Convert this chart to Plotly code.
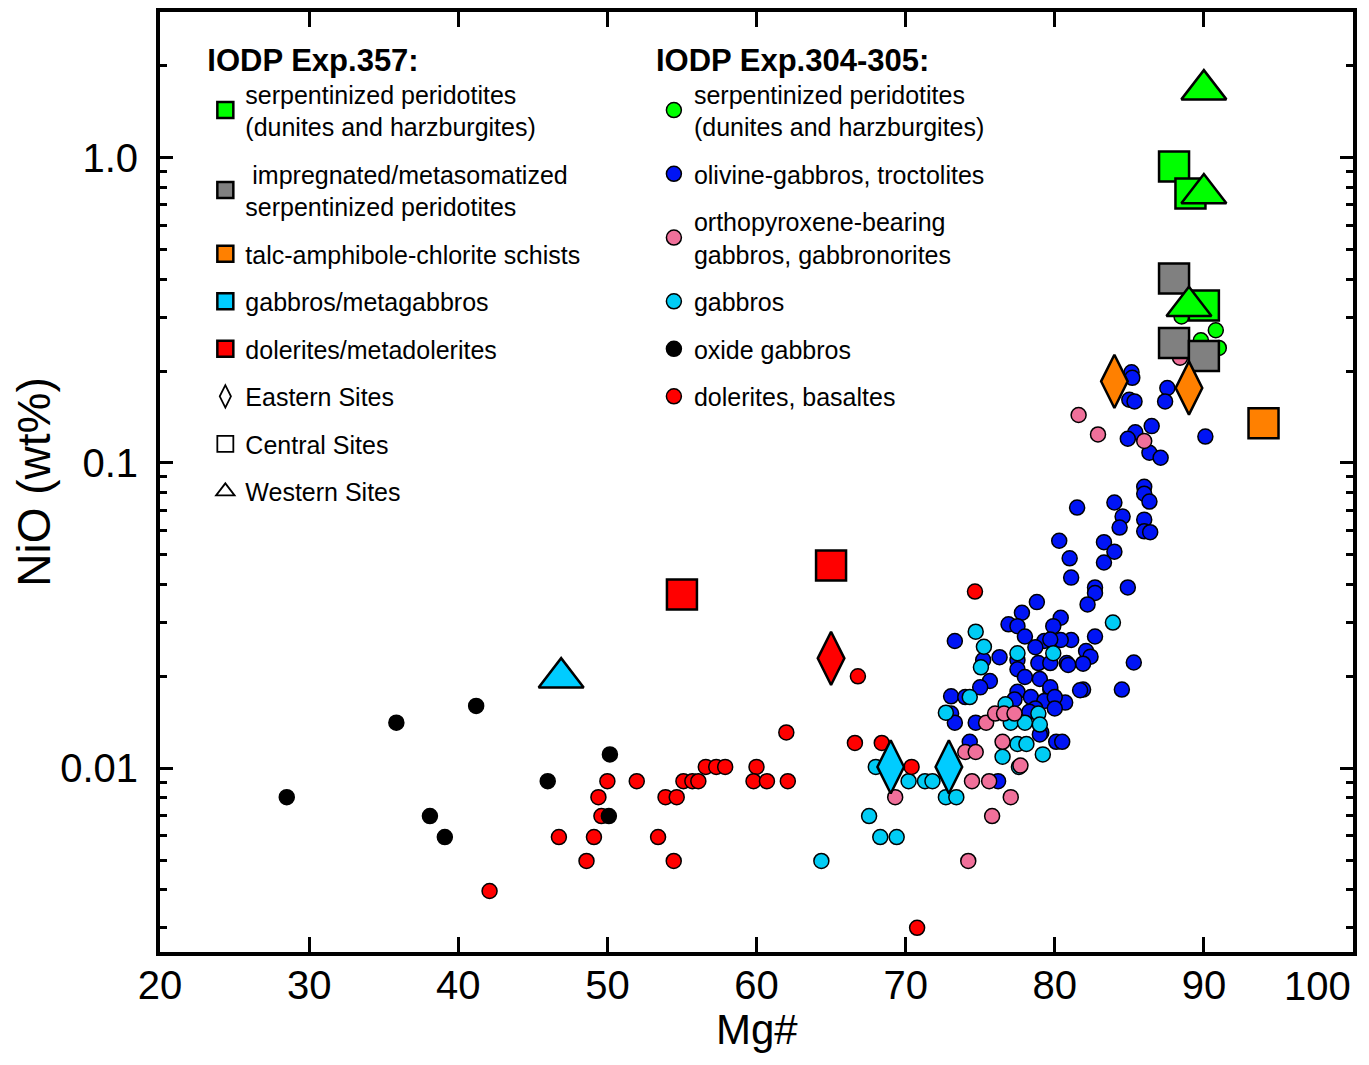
import plotly.graph_objects as go

FONT = "Liberation Sans, Arial, sans-serif"

# ---- IODP Exp.357 samples (large symbols) ----
exp357_mg = [88.0, 89.1, 90.0, 90.0, 90.0, 89.0, 88.0, 88.0, 90.0,
             84.0, 89.0, 94.0, 46.9, 69.0, 72.9, 55.0, 65.0, 65.0]
exp357_nio = [0.935, 0.763, 0.328, 1.67, 0.763, 0.326, 0.402, 0.247, 0.224,
              0.185, 0.176, 0.135, 0.0198, 0.0101, 0.0101, 0.0371, 0.0461, 0.0229]
exp357_rock = ["serp", "serp", "serp", "serp", "serp", "serp", "impreg", "impreg", "impreg",
               "talc", "talc", "talc", "gabbro", "gabbro", "gabbro", "dolerite", "dolerite", "dolerite"]
exp357_site = ["Central", "Central", "Central", "Western", "Western", "Western", "Central", "Central", "Central",
               "Eastern", "Eastern", "Central", "Western", "Eastern", "Eastern", "Central", "Central", "Eastern"]

rock_names = {
    "serp": "serpentinized peridotites<br>(dunites and harzburgites)",
    "impreg": " impregnated/metasomatized<br>serpentinized peridotites",
    "talc": "talc-amphibole-chlorite schists",
    "gabbro": "gabbros/metagabbros",
    "dolerite": "dolerites/metadolerites",
}
rock_colors = {"serp": "#00ff00", "impreg": "#808080", "talc": "#ff8000",
               "gabbro": "#00ccff", "dolerite": "#ff0000"}
site_symbols = {"Eastern": "diamond-tall", "Central": "square", "Western": "triangle-up"}
site_sizes = {"Eastern": 38, "Central": 30, "Western": 39}

# ---- IODP Exp.304-305 samples (small circles) ----
serp_mg = [90.8, 89.8, 88.5, 91.0]
serp_nio = [0.272, 0.252, 0.302, 0.238]

olgab_mg = [85.15, 85.2, 85.0, 85.35, 87.55, 87.4, 86.5, 85.4, 84.9, 86.35, 87.1, 90.1,
            86.0, 86.0, 86.35, 84.0, 81.5, 84.55, 84.35, 86.0, 86.0, 86.4, 80.3, 83.3,
            84.0, 81.0, 83.3, 81.1, 82.7, 82.7, 84.9, 82.2, 78.8, 80.4, 79.9, 82.7,
            81.1, 80.4, 79.3, 82.1, 82.4, 81.9, 80.8, 85.3, 81.9, 84.5, 79.7, 80.7,
            77.8, 76.9, 77.5, 78.0, 73.3, 79.7, 78.7, 76.3, 75.2, 77.5, 78.9, 79.7,
            80.9, 77.5, 78.0, 79.0, 79.7, 81.7, 75.65, 75.0, 77.5, 78.4, 77.3, 73.05,
            74.0, 79.3, 80.0, 78.7, 80.0, 73.05, 73.3, 74.7, 78.3, 79.1, 74.3, 80.1,
            80.5, 76.2, 79.0]
olgab_nio = [0.198, 0.190, 0.161, 0.159, 0.176, 0.159, 0.132, 0.126, 0.120, 0.108, 0.104, 0.122,
             0.0835, 0.0793, 0.0747, 0.0742, 0.0714, 0.0667, 0.0614, 0.0652, 0.0597, 0.0593, 0.0556, 0.0550,
             0.0512, 0.0487, 0.0472, 0.0421, 0.0391, 0.0375, 0.0391, 0.0344, 0.0350, 0.0311, 0.0292, 0.0270,
             0.0263, 0.0263, 0.0261, 0.0242, 0.0232, 0.0220, 0.0221, 0.0222, 0.0181, 0.0181, 0.0181, 0.0164,
             0.0323, 0.0296, 0.0292, 0.0270, 0.0261, 0.0264, 0.0249, 0.0231, 0.0226, 0.0226, 0.0221, 0.0221,
             0.0218, 0.0211, 0.0199, 0.0196, 0.0184, 0.0180, 0.0193, 0.0184, 0.0178, 0.0171, 0.0168, 0.0172,
             0.0171, 0.0166, 0.0171, 0.0157, 0.0157, 0.0151, 0.0141, 0.0141, 0.0153, 0.0131, 0.0122, 0.0122,
             0.0122, 0.00907, 0.0129]

opx_mg = [81.6, 82.9, 86.0, 88.4, 75.4, 76.0, 76.6, 77.3, 76.5, 74.0, 74.7, 77.7,
          69.3, 74.45, 75.6, 77.05, 75.8, 74.2]
opx_nio = [0.1435, 0.124, 0.118, 0.221, 0.0141, 0.0151, 0.0151, 0.0151, 0.0122, 0.0113, 0.0113, 0.0102,
           0.00804, 0.00907, 0.00907, 0.00804, 0.00697, 0.00497]

gab_mg = [64.35, 67.55, 68.3, 69.4, 70.2, 71.3, 68.0, 71.8, 72.7, 73.4, 72.7, 76.5, 77.5, 78.1,
          79.2, 77.05, 78.0, 78.9, 79.0, 74.7, 75.25, 75.05, 74.3, 77.5, 79.9, 83.9, 76.7, 77.6]
gab_nio = [0.00497, 0.00697, 0.00595, 0.00595, 0.00907, 0.00907, 0.0101, 0.00907, 0.00804, 0.00804,
           0.0152, 0.0109, 0.0120, 0.0120, 0.0111, 0.0141, 0.0141, 0.0151, 0.0139, 0.0280, 0.0250,
           0.0214, 0.0171, 0.0238, 0.0238, 0.0300, 0.0162, 0.0101]

oxide_mg = [28.5, 35.85, 41.2, 38.1, 39.1, 46.0, 50.17, 50.1]
oxide_nio = [0.00804, 0.0141, 0.0160, 0.00697, 0.00595, 0.00907, 0.0111, 0.00697]

dol_mg = [50.0, 49.4, 49.6, 46.75, 49.1, 48.6, 42.1, 51.97, 53.9, 54.65, 55.1, 55.7, 56.1,
          56.6, 57.3, 57.9, 53.4, 54.45, 60.0, 59.8, 60.7, 62.1, 62.0, 66.8, 66.6, 68.4,
          70.4, 74.65, 70.77]
dol_nio = [0.00907, 0.00804, 0.00697, 0.00595, 0.00595, 0.00497, 0.00396, 0.00907, 0.00804,
           0.00804, 0.00907, 0.00907, 0.00907, 0.0101, 0.0101, 0.0101, 0.00595, 0.00497, 0.0101,
           0.00907, 0.00907, 0.00907, 0.0131, 0.0200, 0.0121, 0.0121, 0.0101, 0.0379, 0.0030]

x_ticks = [20, 30, 40, 50, 60, 70, 80, 90, 100]
# the "100" label is written separately, right-aligned at its tick, so it stays inside the page
x_ticktext = [str(v) for v in x_ticks[:-1]] + [""]

fig = go.Figure()

# Exp.304-305: drawn in the stacking order seen in the figure, legend order via legendrank
groups_304 = [
    ("olivine-gabbros, troctolites", olgab_mg, olgab_nio, "#0014f5", 2),
    ("gabbros", gab_mg, gab_nio, "#00ccf5", 4),
    ("orthopyroxene-bearing<br>gabbros, gabbronorites", opx_mg, opx_nio, "#f0709a", 3),
    ("dolerites, basaltes", dol_mg, dol_nio, "#ff0000", 6),
    ("oxide gabbros", oxide_mg, oxide_nio, "#000000", 5),
    ("serpentinized peridotites<br>(dunites and harzburgites)", serp_mg, serp_nio, "#00ff00", 1),
]
for name, xs, ys, color, rank in groups_304:
    fig.add_trace(go.Scatter(
        x=xs, y=ys, mode="markers", name=name,
        marker=dict(symbol="circle", size=15, color=color, line=dict(color="black", width=1.5)),
        legend="legend2", legendgroup="b" + str(rank), legendrank=rank,
    ))

# Exp.357 data: one trace per rock type and site
for site in ["Central", "Eastern", "Western"]:
    for rock in rock_names:
        xs = [m for m, r, s in zip(exp357_mg, exp357_rock, exp357_site) if r == rock and s == site]
        ys = [n for n, r, s in zip(exp357_nio, exp357_rock, exp357_site) if r == rock and s == site]
        if not xs:
            continue
        fig.add_trace(go.Scatter(
            x=xs, y=ys, mode="markers", showlegend=False,
            marker=dict(symbol=site_symbols[site], size=site_sizes[site], color=rock_colors[rock],
                        line=dict(color="black", width=2.5)),
        ))

# Exp.357 legend entries
for i, rock in enumerate(rock_names):
    fig.add_trace(go.Scatter(
        x=[None], y=[None], mode="markers", name=rock_names[rock],
        marker=dict(symbol="square", size=30, color=rock_colors[rock], line=dict(color="black", width=2.5)),
        legend="legend", legendgroup="a" + str(i), legendrank=i + 1,
    ))
for j, site in enumerate(["Eastern", "Central", "Western"]):
    fig.add_trace(go.Scatter(
        x=[None], y=[None], mode="markers", name=site + " Sites",
        marker=dict(symbol=site_symbols[site], size=30, color="white", line=dict(color="black", width=1.8)),
        legend="legend", legendgroup="s" + str(j), legendrank=10 + j,
    ))

minor_vals = [m * 10.0 ** e for e in (-3, -2, -1, 0) for m in range(2, 10)]

legend_common = dict(
    xanchor="left", yanchor="top", bgcolor="rgba(0,0,0,0)",
    font=dict(family=FONT, size=25, color="black"),
    tracegroupgap=12, itemsizing="trace",
)

fig.add_annotation(
    text=str(x_ticks[-1]), xref="x", x=x_ticks[-1], xanchor="right",
    yref="paper", y=0, yanchor="top", yshift=-10, showarrow=False,
    font=dict(size=40, family=FONT, color="black"),
)
# x-axis title
fig.add_annotation(
    text="Mg#", xref="paper", x=0.5, xanchor="center",
    yref="paper", y=0, yanchor="middle", yshift=-77, showarrow=False,
    font=dict(size=42, family=FONT, color="black"),
)

fig.update_layout(
    width=1353, height=1049,
    margin=dict(l=152, r=4, t=4, b=105),
    paper_bgcolor="white", plot_bgcolor="white",
    font=dict(family=FONT, color="black"),
    showlegend=True,
    legend=dict(x=0.038, y=0.98, title=dict(text="<b>IODP Exp.357:</b>", font=dict(size=31)), **legend_common),
    legend2=dict(x=0.414, y=0.98, title=dict(text="<b>IODP Exp.304-305:</b>", font=dict(size=31)), **legend_common),
    xaxis=dict(
        range=[20, 100], tickmode="array", tickvals=x_ticks, ticktext=x_ticktext,
        automargin=False,
        showgrid=False, zeroline=False,
        showline=True, linecolor="black", linewidth=4, mirror="ticks",
        ticks="inside", ticklen=15, tickwidth=3, tickcolor="black",
        tickfont=dict(size=40, family=FONT, color="black"), ticklabelstandoff=-5,
    ),
    yaxis=dict(
        type="log", range=[-2.602, 0.477], showgrid=False, zeroline=False,
        showline=True, linecolor="black", linewidth=4, mirror="ticks",
        tickmode="array", tickvals=[0.01, 0.1, 1.0], ticktext=["0.01", "0.1", "1.0"],
        ticks="inside", ticklen=13, tickwidth=3, tickcolor="black",
        tickfont=dict(size=40, family=FONT, color="black"), ticklabelstandoff=10,
        minor=dict(tickmode="array", tickvals=minor_vals, ticks="inside", ticklen=7,
                   tickwidth=3, tickcolor="black", showgrid=False),
        title=dict(text="NiO (wt%)", font=dict(size=46, family=FONT), standoff=8),
    ),
)

fig.write_html("out.html")
